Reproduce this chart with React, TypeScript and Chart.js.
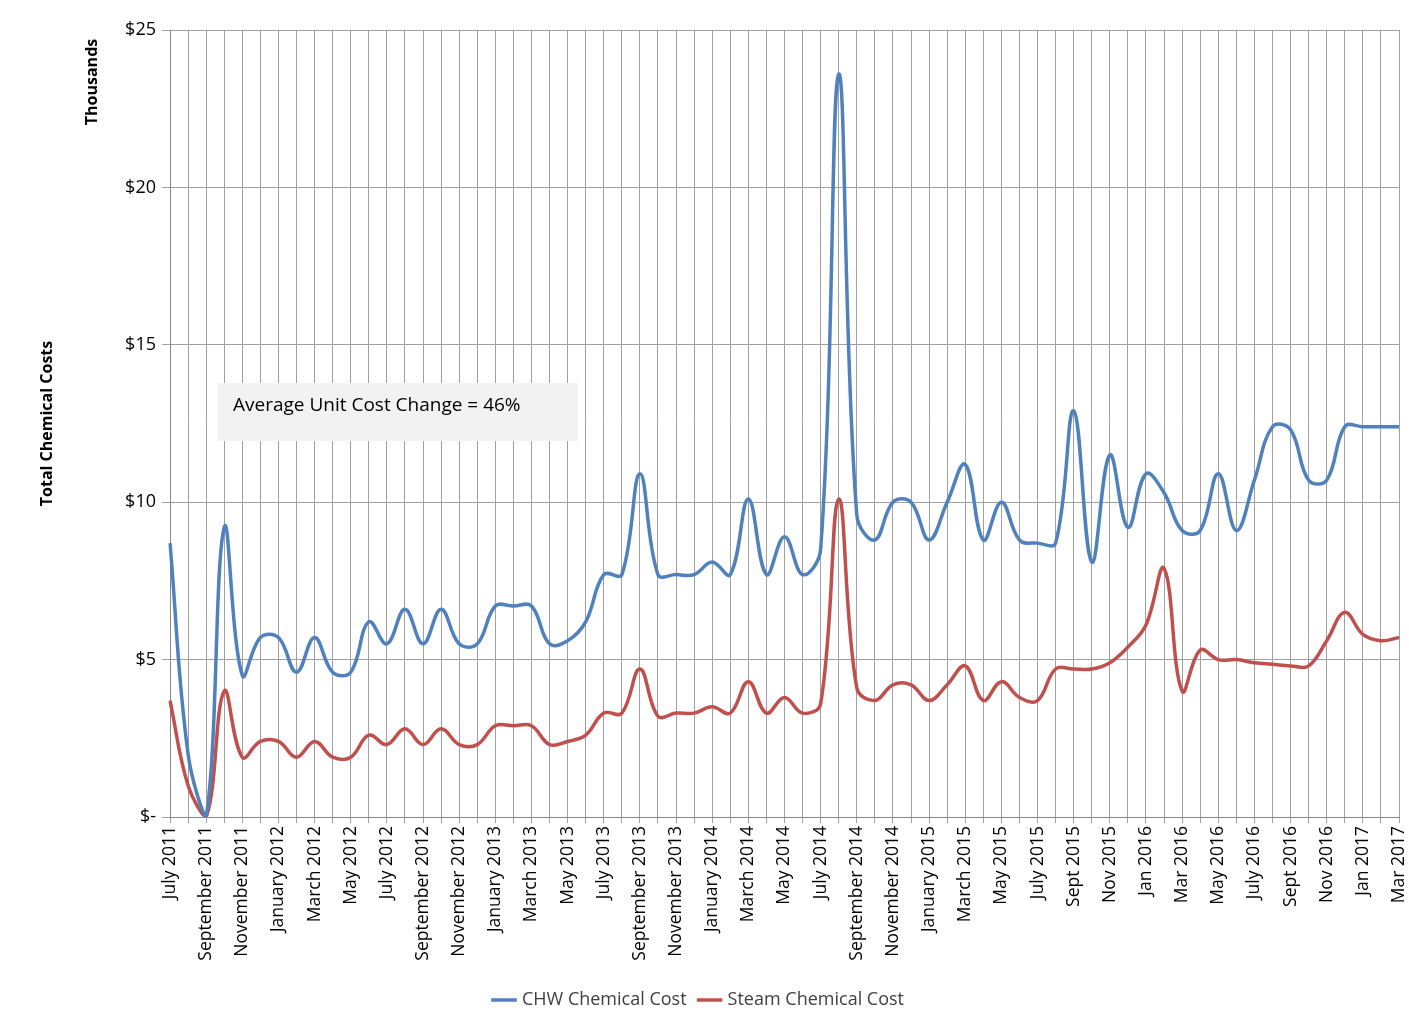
import React, { useEffect, useRef } from "react";
import { Chart, registerables } from "chart.js";
Chart.register(...registerables);

const months = ["January","February","March","April","May","June","July","August","September","October","November","December"];
const shortMonths = ["Jan","Feb","Mar","Apr","May","June","July","Aug","Sept","Oct","Nov","Dec"];
const labels: string[] = [];
for (let i = 0; i < 69; i++) {
  const m = (6 + i) % 12;
  const y = 2011 + Math.floor((6 + i) / 12);
  const useShort = i >= 50;
  labels.push((useShort ? shortMonths[m] : months[m]) + " " + y);
}
labels[46] = "May 2015";
labels[48] = "July 2015";

const chw = [8.7,2.0,0,9.2,4.5,5.7,5.7,4.6,5.7,4.6,4.6,6.2,5.5,6.6,5.5,6.6,5.5,5.5,6.7,6.7,6.7,5.5,5.6,6.2,7.7,7.7,10.9,7.7,7.7,7.7,8.1,7.7,10.1,7.7,8.9,7.7,8.5,23.6,9.6,8.8,10.0,10.0,8.8,10.0,11.2,8.8,10.0,8.8,8.7,8.7,12.9,8.1,11.5,9.2,10.9,10.3,9.1,9.1,10.9,9.1,10.7,12.4,12.3,10.7,10.7,12.4,12.4,12.4,12.4];
const steam = [3.7,1.0,0,4.0,1.9,2.4,2.4,1.9,2.4,1.9,1.9,2.6,2.3,2.8,2.3,2.8,2.3,2.3,2.9,2.9,2.9,2.3,2.4,2.6,3.3,3.3,4.7,3.2,3.3,3.3,3.5,3.3,4.3,3.3,3.8,3.3,3.6,10.1,4.1,3.7,4.2,4.2,3.7,4.2,4.8,3.7,4.3,3.8,3.7,4.7,4.7,4.7,4.9,5.4,6.1,7.9,4.0,5.3,5.0,5.0,4.9,4.85,4.8,4.8,5.6,6.5,5.8,5.6,5.7];
const yTicks = [0, 5, 10, 15, 20, 25];
const annotation = "Average Unit Cost Change = 46%";

const FONT = "'Open Sans', 'Liberation Sans', sans-serif";

export default function App() {
  const ref = useRef<HTMLCanvasElement>(null);
  useEffect(() => {
    document.body.style.margin = "0";
    const extra = {
      id: "extra",
      afterDraw(c: any) {
        const ctx = c.ctx;
        ctx.save();
        ctx.fillStyle = "#f2f2f2";
        ctx.fillRect(218, 383, 360, 58);
        ctx.fillStyle = "#000";
        ctx.font = `19px ${FONT}`;
        ctx.textBaseline = "middle";
        ctx.fillText(annotation, 233, 406);
        ctx.translate(92, 82);
        ctx.rotate(-Math.PI / 2);
        ctx.font = `bold 16px ${FONT}`;
        ctx.textAlign = "center";
        ctx.fillText("Thousands", 0, 0);
        ctx.restore();
      },
    };
    const chart = new Chart(ref.current!, {
      type: "line",
      data: {
        labels,
        datasets: [
          { label: "CHW Chemical Cost", data: chw, borderColor: "#4f81bd", backgroundColor: "#4f81bd", borderWidth: 3.5, pointRadius: 0, tension: 0.4 },
          { label: "Steam Chemical Cost", data: steam, borderColor: "#c0504d", backgroundColor: "#c0504d", borderWidth: 3.5, pointRadius: 0, tension: 0.4 },
        ],
      },
      options: {
        animation: false,
        responsive: false,
        layout: { padding: { top: 30, right: 10, left: 0, bottom: 8 } },
        plugins: {
          legend: {
            position: "bottom",
            labels: { usePointStyle: true, pointStyle: "line", boxWidth: 40, font: { family: FONT, size: 18 }, color: "#404040", padding: 14 },
          },
          tooltip: { enabled: false },
        },
        scales: {
          x: {
            offset: false,
            afterFit: (s: any) => { s.height = 160; s.paddingRight = 0; s.paddingLeft = 0; },
            grid: { color: "#a0a0a0", lineWidth: 1, drawTicks: true, tickLength: 6 },
            border: { color: "#888" },
            ticks: {
              autoSkip: false, maxRotation: 90, minRotation: 90, color: "#000",
              font: { family: FONT, size: 17.5 },
              callback: (_v: any, i: number) => (i % 2 === 0 ? labels[i] : ""),
            },
          },
          y: {
            min: 0, max: 25,
            afterFit: (s: any) => { s.width = 170; },
            afterBuildTicks: (s: any) => { s.ticks = yTicks.map((v) => ({ value: v })); },
            grid: { color: "#a0a0a0" },
            border: { color: "#888" },
            title: { display: true, text: "Total Chemical Costs", font: { family: FONT, size: 16, weight: "bold" }, color: "#000", padding: { top: 38 } },
            ticks: { color: "#000", font: { family: FONT, size: 18 }, padding: 6, callback: (v: any) => (v === 0 ? "$-" : "$" + v) },
          },
        },
      },
      plugins: [extra],
    } as any);
    return () => chart.destroy();
  }, []);
  return <canvas ref={ref} width={1409} height={1027} style={{ display: "block" }} />;
}
